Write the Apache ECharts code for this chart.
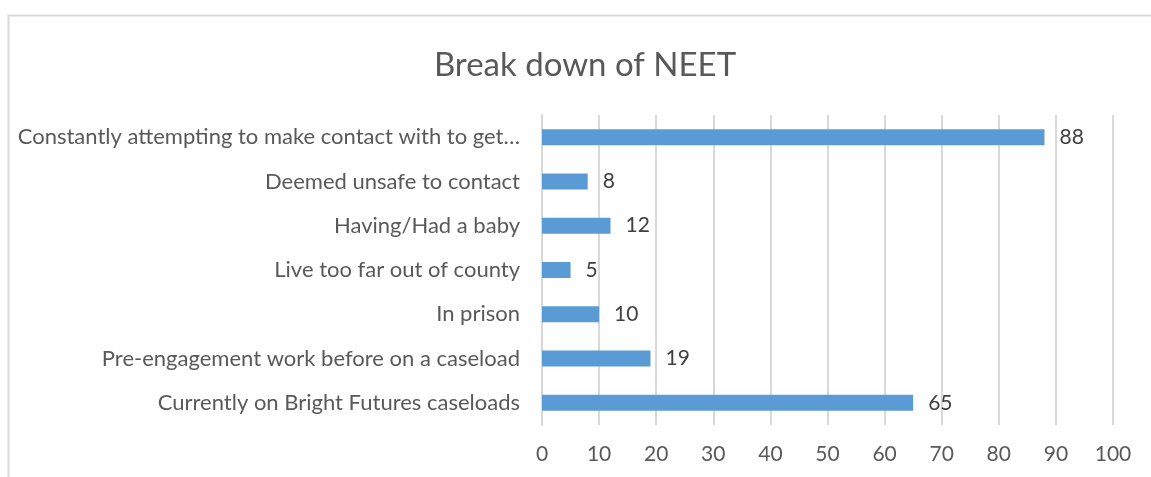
<!DOCTYPE html>
<html>
<head>
<meta charset="utf-8">
<script src="https://cdn.jsdelivr.net/npm/echarts@6/dist/echarts.min.js"></script>
<style>
  html, body { margin: 0; padding: 0; background: #fff; }
  #chart { width: 1151px; height: 477px; }
</style>
</head>
<body>
<div id="chart"></div>
<script>
// categories top to bottom
var categories = [
  'Constantly attempting to make contact with to get\u2026',
  'Deemed unsafe to contact',
  'Having/Had a baby',
  'Live too far out of county',
  'In prison',
  'Pre-engagement work before on a caseload',
  'Currently on Bright Futures caseloads'
]
var counts = [88, 8, 12, 5, 10, 19, 65]

var textGrey = '#595959'
var gridGrey = '#d9d9d9'

var chart = echarts.init(document.getElementById('chart'))
chart.setOption({
  animation: false,
  textStyle: { fontFamily: 'Lato' },
  title: {
    text: 'Break down of NEET',
    left: 580,
    top: 44,
    textAlign: 'center',
    textStyle: { fontFamily: 'Lato', fontSize: 33, fontWeight: 'normal', color: textGrey }
  },
  graphic: [
    {
      type: 'rect',
      shape: { x: 8.5, y: 15.5, width: 1300, height: 600 },
      style: { fill: 'none', stroke: gridGrey, lineWidth: 2 },
      silent: true
    }
  ],
  grid: {
    left: 542,
    right: 38,
    top: 115,
    bottom: 52
  },
  xAxis: {
    type: 'value',
    min: 0,
    max: 100,
    interval: 10,
    axisLine: { show: false },
    axisTick: { show: false },
    axisLabel: { color: textGrey, fontSize: 21, margin: 19 },
    splitLine: { show: true, lineStyle: { color: gridGrey, width: 2 } }
  },
  yAxis: {
    type: 'category',
    inverse: true,
    data: categories,
    axisLine: { show: true, lineStyle: { color: gridGrey, width: 2 } },
    axisTick: { show: false },
    axisLabel: {
      color: textGrey,
      fontSize: 22,
      margin: 22,
      // the truncated first label sits a little closer to the axis
      formatter: function (val, i) {
        return i === 0 ? '{near|' + val + '}' : val
      },
      rich: {
        near: { fontSize: 22, color: textGrey, fontFamily: 'Lato', width: 493, align: 'right' }
      }
    }
  },
  series: [
    {
      type: 'bar',
      data: counts,
      barWidth: 16,
      itemStyle: { color: '#5b9bd5' },
      label: {
        show: true,
        position: 'right',
        distance: 15,
        color: '#404040',
        fontSize: 21
      }
    }
  ]
})
</script>
</body>
</html>
